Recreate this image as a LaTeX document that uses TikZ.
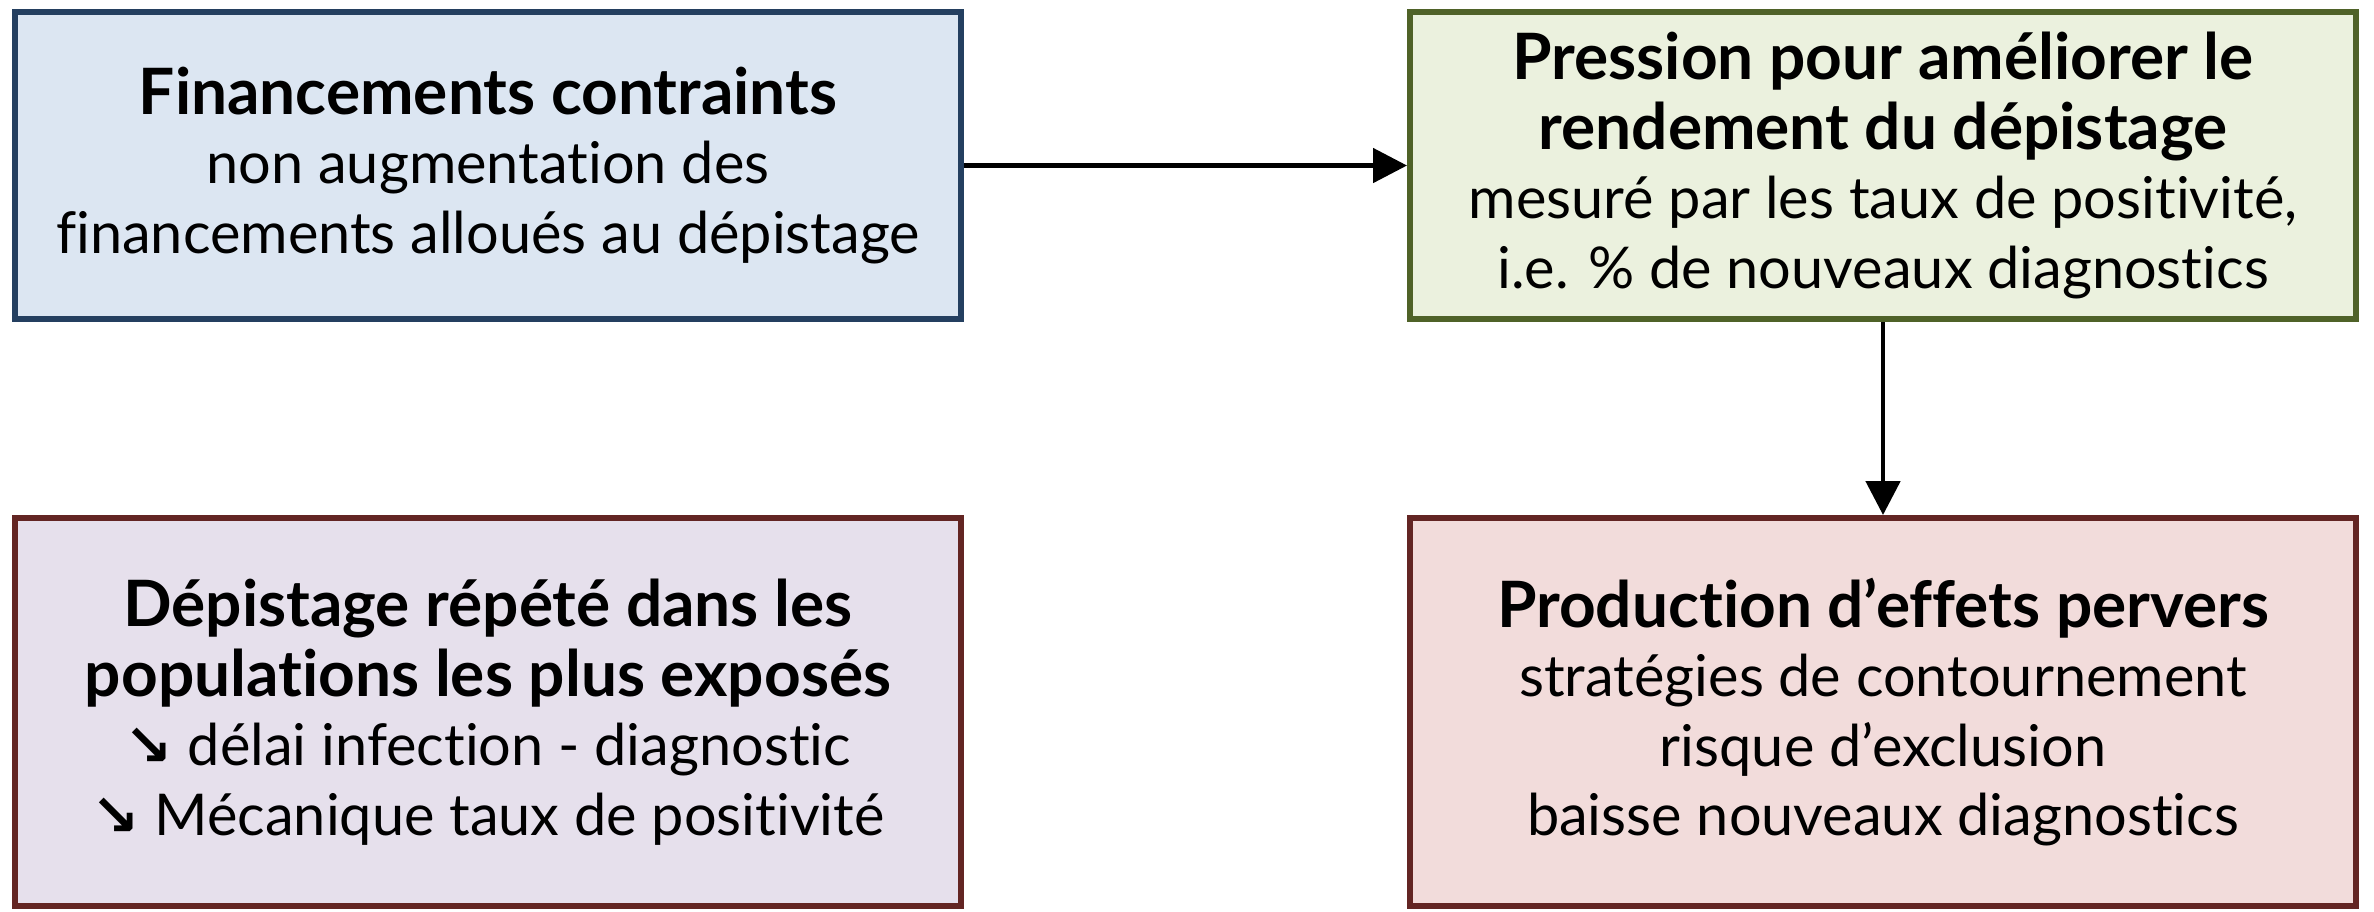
\documentclass[tikz,border=0pt]{standalone}
\usepackage{fontspec}
\setmainfont{Lato}[Ligatures={NoCommon}]
\newfontfamily\arrowfont{DejaVu Sans}
\usepackage{xcolor}
\definecolor{finfill}{HTML}{DCE6F2}
\definecolor{finline}{HTML}{243F60}
\definecolor{presfill}{HTML}{EBF1DE}
\definecolor{presline}{HTML}{4F6228}
\definecolor{depfill}{HTML}{E6E0EC}
\definecolor{prodfill}{HTML}{F2DCDB}
\definecolor{redline}{HTML}{632523}
\usetikzlibrary{arrows.meta,positioning}
\newcommand{\boxtitle}[1]{{\fontsize{18.2}{23.5}\selectfont\bfseries #1}}
\newcommand{\down}{{\arrowfont\bfseries ↘}}

\begin{document}
\begin{tikzpicture}[
    box/.style={draw, line width=1.7pt, minimum width=9.46cm, align=center, inner sep=0pt,
        font=\fontsize{16.4}{19.8}\selectfont},
    link/.style={-{Triangle[length=0.34cm,width=0.34cm]}, line width=1.4pt}
    ]
    \useasboundingbox (0,0) rectangle (23.74,-9.11);
    % top row
    \node[box, fill=finfill, draw=finline, minimum height=3.07cm] (fin) at (4.88,-1.655)
        {\boxtitle{Financements contraints}\\ non augmentation des\\ financements alloués au dépistage};
    \node[box, fill=presfill, draw=presline, minimum height=3.07cm] (pres) at (18.83,-1.655)
        {\boxtitle{Pression pour améliorer le}\\ \boxtitle{rendement du dépistage}\\
         mesuré par les taux de positivité,\\ i.e. \% de nouveaux diagnostics};
    % bottom row
    \node[box, fill=depfill, draw=redline, minimum height=3.88cm] (dep) at (4.88,-7.12)
        {\boxtitle{Dépistage répété dans les}\\ \boxtitle{populations les plus exposés}\\
         \down{} délai infection - diagnostic\\ \down{} Mécanique taux de positivité};
    \node[box, fill=prodfill, draw=redline, minimum height=3.88cm] (prod) at (18.83,-7.12)
        {\boxtitle{Production d’effets pervers}\\ stratégies de contournement\\
         risque d’exclusion\\ baisse nouveaux diagnostics};
    % links
    \draw[link] (fin.east) -- (pres.west);
    \draw[link] (pres.south) -- (prod.north);
\end{tikzpicture}
\end{document}
